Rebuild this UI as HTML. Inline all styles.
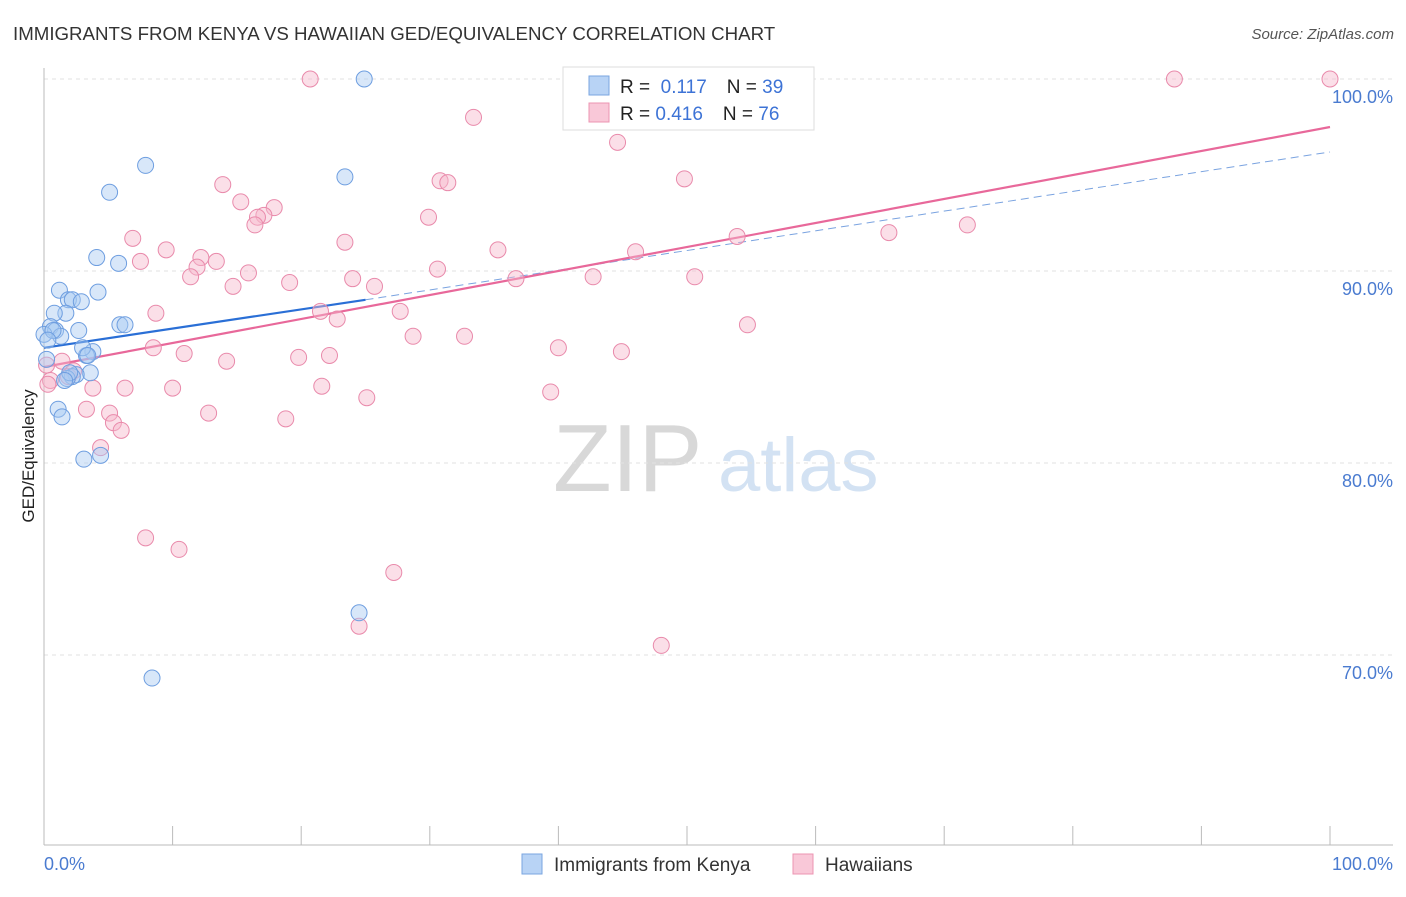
<!DOCTYPE html>
<html><head><meta charset="utf-8"><style>
body{margin:0;background:#fff;font-family:"Liberation Sans",sans-serif}
svg text{font-family:"Liberation Sans",sans-serif}
</style></head><body>
<svg id="c" width="1406" height="892" viewBox="0 0 1406 892" xmlns="http://www.w3.org/2000/svg">
<text x="13" y="40" font-size="18.7" fill="#333">IMMIGRANTS FROM KENYA VS HAWAIIAN GED/EQUIVALENCY CORRELATION CHART</text>
<text x="1394" y="39" font-size="15" fill="#555" font-style="italic" text-anchor="end">Source: ZipAtlas.com</text>
<text transform="translate(34,456) rotate(-90)" font-size="17" fill="#222" text-anchor="middle">GED/Equivalency</text>
<g>
<text x="553" y="491" font-size="96" fill="#d8d8d8" font-family="Liberation Serif">ZIP</text>
<text x="718" y="491" font-size="76" fill="#d3e2f3">atlas</text>
</g>
<g id="grid"></g><g id="axes"></g><g id="lines"></g><g id="pts"></g>
<g>
<rect x="563" y="67" width="251" height="63" fill="#fff" stroke="#ddd"/>
<rect x="589" y="76" width="20" height="19" fill="#b8d3f5" stroke="#7aa6e0"/>
<text x="620" y="93" font-size="19" fill="#222">R = <tspan fill="#3d73d6">&#160;0.117</tspan><tspan dx="20" fill="#222">N = </tspan><tspan fill="#3d73d6">39</tspan></text>
<rect x="589" y="103" width="20" height="19" fill="#f9c8d8" stroke="#ec94b2"/>
<text x="620" y="120" font-size="19" fill="#222">R = <tspan fill="#3d73d6">0.416</tspan><tspan dx="20" fill="#222">N = </tspan><tspan fill="#3d73d6">76</tspan></text>
</g>
<g>
<rect x="522" y="854" width="20" height="20" fill="#b8d3f5" stroke="#7aa6e0"/>
<text x="554" y="871" font-size="19" fill="#333">Immigrants from Kenya</text>
<rect x="793" y="854" width="20" height="20" fill="#f9c8d8" stroke="#ec94b2"/>
<text x="825" y="871" font-size="19" fill="#333">Hawaiians</text>
</g>
</svg>
<script>
const yTicks=[100,90,80,70];
const yTickLabels=["100.0%","90.0%","80.0%","70.0%"];
const xTickLabels=["0.0%","100.0%"];
const kenyaX=[24.9,7.9,5.1,23.4,4.1,5.8,1.2,1.9,2.2,4.2,2.9,1.7,0.8,0.5,0.9,0,2.7,1.3,5.9,6.3,3.8,3.3,3.0,0.2,3.6,2.5,2.2,1.8,1.1,1.4,3.1,4.4,24.5,8.4,0.7,0.3,3.4,2.0,1.6];
const kenyaY=[100,95.5,94.1,94.9,90.7,90.4,89.0,88.5,88.5,88.9,88.4,87.8,87.8,87.1,86.9,86.7,86.9,86.6,87.2,87.2,85.8,85.6,86.0,85.4,84.7,84.6,84.5,84.4,82.8,82.4,80.2,80.4,72.2,68.8,86.9,86.4,85.6,84.7,84.3];
const hawX=[20.7,87.9,100,33.4,44.6,49.8,30.8,31.4,13.9,15.3,17.9,17.1,16.6,16.4,29.9,23.4,6.9,9.5,35.3,46.0,53.9,65.7,71.8,7.5,12.2,13.4,11.9,11.4,15.9,30.6,24.0,19.1,36.7,42.7,50.6,14.7,25.7,8.7,21.5,22.8,27.7,54.7,28.7,32.7,8.5,10.9,19.8,22.2,40.0,44.9,14.2,1.4,0.2,2.3,1.9,0.5,3.8,6.3,10.0,21.6,39.4,25.1,3.3,5.1,5.4,12.8,18.8,6.0,4.4,7.9,10.5,27.2,24.5,48.0,0.3];
const hawY=[100,100,100,98.0,96.7,94.8,94.7,94.6,94.5,93.6,93.3,92.9,92.8,92.4,92.8,91.5,91.7,91.1,91.1,91.0,91.8,92.0,92.4,90.5,90.7,90.5,90.2,89.7,89.9,90.1,89.6,89.4,89.6,89.7,89.7,89.2,89.2,87.8,87.9,87.5,87.9,87.2,86.6,86.6,86.0,85.7,85.5,85.6,86.0,85.8,85.3,85.3,85.1,84.8,84.5,84.3,83.9,83.9,83.9,84.0,83.7,83.4,82.8,82.6,82.1,82.6,82.3,81.7,80.8,76.1,75.5,74.3,71.5,70.5,84.1];
const kenyaTrend=[86.0,88.5,96.2];
const hawTrend=[85.0,97.5];
const sx=v=>44+v*12.86, sy=v=>79+(100-v)*19.2;
const NS="http://www.w3.org/2000/svg";
function mk(t,a,p){const e=document.createElementNS(NS,t);for(const k in a)e.setAttribute(k,a[k]);p.appendChild(e);return e;}
const grid=document.getElementById('grid'),axes=document.getElementById('axes'),lines=document.getElementById('lines'),pts=document.getElementById('pts');
yTicks.forEach((t,i)=>{
 const l=mk('line',{x1:44,x2:1393,y1:sy(t),y2:sy(t),stroke:'#e2e2e2','stroke-dasharray':'4,4'},grid);
 
 
 const tx=mk('text',{x:1393,y:sy(t)+24,'font-size':18,fill:'#4a7bd0','text-anchor':'end'},axes);
 tx.textContent=yTickLabels[i];
 
 
});
const ax=mk('line',{x1:44,x2:1393,y1:845,y2:845,stroke:'#bbb'},axes);


const ay=mk('line',{x1:44,x2:44,y1:68,y2:845,stroke:'#bbb'},axes);


for(let i=0;i<=10;i++){const t=mk('line',{x1:sx(i*10),x2:sx(i*10),y1:826,y2:845,stroke:'#bbb'},axes);
 
 }
[[0,44,'start'],[100,1393,'end']].forEach((d,i)=>{const t=mk('text',{x:d[1],y:870,'font-size':18,fill:'#4a7bd0','text-anchor':d[2]},axes);t.textContent=xTickLabels[i];
 
 });
function pt(x,y,f,s,n){const c=mk('circle',{cx:sx(x),cy:sy(y),r:8,fill:f,'fill-opacity':0.45,stroke:s,'stroke-width':1},pts);
 
 }
hawX.forEach((x,i)=>pt(x,hawY[i],'#f7b8cd','#e98aab','hawaiians-point'));
kenyaX.forEach((x,i)=>pt(x,kenyaY[i],'#a9c9f2','#6e9ee0','kenya-point'));
let l1=mk('line',{x1:sx(0),y1:sy(kenyaTrend[0]),x2:sx(25),y2:sy(kenyaTrend[1]),stroke:'#2a6fd6','stroke-width':2.2},lines);


let l2=mk('line',{x1:sx(25),y1:sy(kenyaTrend[1]),x2:sx(100),y2:sy(kenyaTrend[2]),stroke:'#7aa3e0','stroke-width':1,'stroke-dasharray':'8,5'},lines);


let l3=mk('line',{x1:sx(0),y1:sy(hawTrend[0]),x2:sx(100),y2:sy(hawTrend[1]),stroke:'#e8689a','stroke-width':2.2},lines);


</script>
</body></html>
